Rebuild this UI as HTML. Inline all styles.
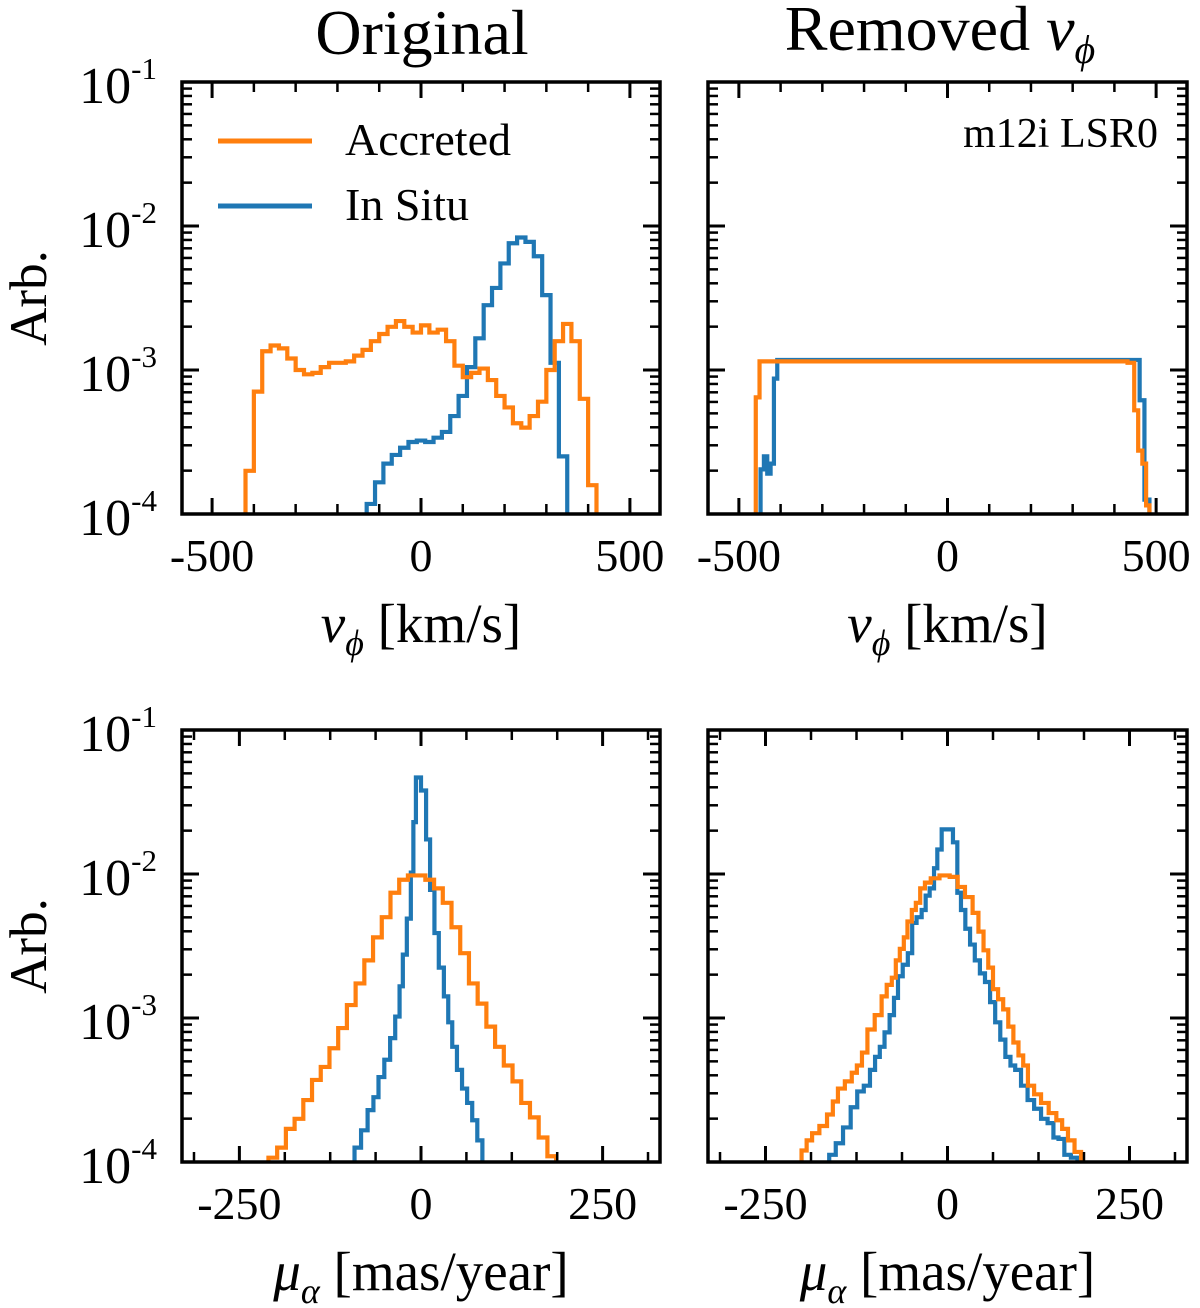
<!DOCTYPE html>
<html><head><meta charset="utf-8"><style>
html,body{margin:0;padding:0;background:#fff;}
svg{display:block;font-family:"Liberation Serif",serif;}
</style></head><body>
<svg id="fig" width="1200" height="1308" viewBox="0 0 1200 1308" xmlns="http://www.w3.org/2000/svg">
<g id="root"></g>
<text x="422" y="54" text-anchor="middle" font-size="64">Original</text>
<text x="940" y="50" text-anchor="middle" font-size="64">Removed <tspan font-style="italic">v</tspan><tspan font-style="italic" font-size="40" dy="13">ϕ</tspan></text>
<text transform="translate(46,298) rotate(-90)" text-anchor="middle" font-size="53">Arb.</text>
<text transform="translate(46,946) rotate(-90)" text-anchor="middle" font-size="53">Arb.</text>
<g>
<line x1="218" x2="312" y1="141" y2="141" stroke="#ff7f0e" stroke-width="5"/>
<text x="345" y="155" font-size="46">Accreted</text>
<line x1="218" x2="312" y1="206" y2="206" stroke="#1f77b4" stroke-width="5"/>
<text x="345" y="220" font-size="46">In Situ</text>
</g>
<text x="1158" y="147" text-anchor="end" font-size="42">m12i LSR0</text>
</svg>
<script>
// ---- data (log10 density, bin centers) ----
const tlOrangeCenters=[-410,-390,-370,-350,-330,-310,-290,-270,-250,-230,-210,-190,-170,-150,-130,-110,-90,-70,-50,-30,-10,10,30,50,70,90,110,130,150,170,190,210,230,250,270,290,310,330,350,370,390,410];
const tlOrangeLog=[-3.7,-3.15,-2.87,-2.83,-2.85,-2.92,-3.0,-3.03,-3.02,-2.98,-2.95,-2.95,-2.94,-2.90,-2.86,-2.80,-2.75,-2.70,-2.66,-2.70,-2.74,-2.69,-2.74,-2.72,-2.80,-2.97,-3.05,-3.02,-2.99,-3.07,-3.18,-3.26,-3.37,-3.40,-3.32,-3.22,-3.0,-2.80,-2.68,-2.8,-3.2,-3.8];
const tlBlueCenters=[-120,-100,-80,-60,-40,-20,0,20,40,60,80,100,120,140,160,180,200,220,240,260,280,300,320,340];
const tlBlueLog=[-3.93,-3.78,-3.65,-3.59,-3.54,-3.50,-3.49,-3.50,-3.47,-3.43,-3.32,-3.18,-2.98,-2.78,-2.55,-2.43,-2.26,-2.12,-2.08,-2.11,-2.21,-2.48,-2.95,-3.6];
const trOrangeCenters=[-455,-446,-420,-300,-150,0,150,300,420,443,452,462,472,480];
const trOrangeLog=[-3.19,-2.94,-2.94,-2.94,-2.94,-2.94,-2.94,-2.94,-2.94,-2.95,-3.28,-3.56,-3.65,-3.94];
const trBlueCenters=[-444,-436,-428,-420,-412,-404,-380,-250,0,250,420,455,466,478];
const trBlueLog=[-3.69,-3.6,-3.72,-3.65,-3.06,-2.93,-2.93,-2.93,-2.93,-2.93,-2.93,-2.93,-3.21,-3.9];
const blOrangeCenters=[-204,-192,-180,-168,-156,-144,-132,-120,-108,-96,-84,-72,-60,-48,-36,-24,-12,0,12,24,36,48,60,72,84,96,108,120,132,144,156,168,180];
const blOrangeLog=[-3.97,-3.90,-3.77,-3.70,-3.57,-3.43,-3.34,-3.21,-3.07,-2.91,-2.76,-2.60,-2.44,-2.30,-2.13,-2.04,-2.01,-2.01,-2.04,-2.10,-2.20,-2.37,-2.55,-2.76,-2.90,-3.06,-3.20,-3.33,-3.44,-3.59,-3.69,-3.83,-3.96];
const blBlueCenters=[-87,-78,-69,-62,-55,-46,-39,-32,-27,-23,-16,-12,-9,-5,5,9,16,21,28,35,40,46,53,60,67,74,81];
const blBlueLog=[-3.90,-3.78,-3.64,-3.55,-3.41,-3.29,-3.14,-2.99,-2.78,-2.56,-2.31,-1.99,-1.64,-1.33,-1.42,-1.76,-2.11,-2.41,-2.65,-2.85,-3.03,-3.20,-3.36,-3.49,-3.59,-3.71,-3.85];
const brOrangeCenters=[-197,-190,-182,-170,-161,-154,-147,-135,-128,-121,-114,-106,-94,-87,-80,-73,-69,-62,-58,-52,-46,-41,-34,-28,-18,-4,10,18,30,39,46,53,59,66,73,80,87,94,101,107,114,124,133,145,154,161,170,179];
const brOrangeLog=[-3.92,-3.85,-3.80,-3.75,-3.67,-3.58,-3.49,-3.44,-3.38,-3.33,-3.24,-3.08,-2.98,-2.85,-2.77,-2.72,-2.60,-2.52,-2.44,-2.33,-2.25,-2.20,-2.10,-2.06,-2.03,-2.01,-2.02,-2.09,-2.16,-2.27,-2.40,-2.53,-2.65,-2.80,-2.87,-2.94,-3.06,-3.17,-3.26,-3.33,-3.47,-3.53,-3.59,-3.66,-3.71,-3.77,-3.85,-3.93];
const brBlueCenters=[-158,-149,-138,-128,-120,-110,-103,-96,-90,-83,-76,-71,-65,-58,-51,-46,-39,-32,-28,-21,-16,-12,-4,4,11,16,21,28,34,41,48,55,62,69,76,83,90,96,106,114,124,133,142,149,156,165,174];
const brBlueLog=[-3.95,-3.87,-3.76,-3.62,-3.51,-3.47,-3.36,-3.27,-3.20,-3.10,-2.98,-2.86,-2.71,-2.63,-2.55,-2.34,-2.30,-2.25,-2.15,-2.10,-1.96,-1.83,-1.69,-1.69,-1.78,-2.13,-2.25,-2.38,-2.49,-2.60,-2.69,-2.75,-2.89,-3.03,-3.15,-3.27,-3.33,-3.36,-3.47,-3.57,-3.63,-3.70,-3.73,-3.83,-3.84,-3.95,-3.97];
const topXTicks=[-500,0,500];
const topXTickLabels=["-500","0","500"];
const botXTicks=[-250,0,250];
const botXTickLabels=["-250","0","250"];
const yDecades=[-1,-2,-3,-4];
const yTickLabels=["-1","-2","-3","-4"];

const NS="http://www.w3.org/2000/svg";
const root=document.getElementById('root');
function mk(tag,attrs,parent){const e=document.createElementNS(NS,tag);for(const k in attrs)e.setAttribute(k,attrs[k]);(parent||root).appendChild(e);return e;}

const panels=[
 {id:'top-left',x0:182,x1:660,y0:82,y1:514,xmin:-572,xmax:572,minor:100,ticks:topXTicks,labels:topXTickLabels,ylab:true,series:[[tlBlueCenters,tlBlueLog,'#1f77b4','in-situ'],[tlOrangeCenters,tlOrangeLog,'#ff7f0e','accreted']],xl:'v'},
 {id:'top-right',x0:708,x1:1187,y0:82,y1:514,xmin:-574,xmax:574,minor:100,ticks:topXTicks,labels:topXTickLabels,ylab:false,series:[[trBlueCenters,trBlueLog,'#1f77b4','in-situ'],[trOrangeCenters,trOrangeLog,'#ff7f0e','accreted']],xl:'v'},
 {id:'bottom-left',x0:182,x1:660,y0:730,y1:1162,xmin:-329,xmax:329,minor:62.5,ticks:botXTicks,labels:botXTickLabels,ylab:true,series:[[blBlueCenters,blBlueLog,'#1f77b4','in-situ'],[blOrangeCenters,blOrangeLog,'#ff7f0e','accreted']],xl:'mu'},
 {id:'bottom-right',x0:708,x1:1187,y0:730,y1:1162,xmin:-329,xmax:329,minor:62.5,ticks:botXTicks,labels:botXTickLabels,ylab:false,series:[[brBlueCenters,brBlueLog,'#1f77b4','in-situ'],[brOrangeCenters,brOrangeLog,'#ff7f0e','accreted']],xl:'mu'}
];

panels.forEach((p,pi)=>{
 const g=mk('g',{});
 
 
 const X=v=>p.x0+(v-p.xmin)/(p.xmax-p.xmin)*(p.x1-p.x0);
 const Y=l=>p.y0+(-1-l)/3*(p.y1-p.y0);
 const cp=mk('clipPath',{id:'clip'+pi},g);
 mk('rect',{x:p.x0,y:p.y0,width:p.x1-p.x0,height:p.y1-p.y0},cp);
 p.series.forEach(s=>{
  const c=s[0],v=s[1],n=c.length;
  const edges=[];
  edges.push(c[0]-(c[1]-c[0])/2);
  for(let i=0;i<n-1;i++)edges.push((c[i]+c[i+1])/2);
  edges.push(c[n-1]+(c[n-1]-c[n-2])/2);
  let d='M'+X(edges[0])+','+(p.y1+10);
  for(let i=0;i<n;i++){d+=' L'+X(edges[i])+','+Y(v[i])+' L'+X(edges[i+1])+','+Y(v[i]);}
  d+=' L'+X(edges[n])+','+(p.y1+10);
  const path=mk('path',{d:d,fill:'none',stroke:s[2],'stroke-width':4.2,'stroke-linejoin':'miter','clip-path':'url(#clip'+pi+')'},g);
  
  
 });
 for(let dcd=-4;dcd<=-1;dcd++){
  const y=Y(dcd);
  mk('line',{x1:p.x0,x2:p.x0+17,y1:y,y2:y,stroke:'#000','stroke-width':3},g);
  mk('line',{x1:p.x1,x2:p.x1-17,y1:y,y2:y,stroke:'#000','stroke-width':3},g);
  if(dcd<-1)for(let m=2;m<=9;m++){
   const ym=Y(dcd+Math.log10(m));
   mk('line',{x1:p.x0,x2:p.x0+10,y1:ym,y2:ym,stroke:'#000','stroke-width':2.5},g);
   mk('line',{x1:p.x1,x2:p.x1-10,y1:ym,y2:ym,stroke:'#000','stroke-width':2.5},g);
  }
 }
 if(p.ylab){
  yDecades.forEach((dcd,i)=>{
   const t=mk('text',{x:157,y:Y(dcd)+21,'text-anchor':'end','font-size':52},g);
   
   
   t.appendChild(document.createTextNode('10'));
   const ts=mk('tspan',{'font-size':31,dy:-24},t);
   ts.textContent=yTickLabels[i];
  });
 }
 for(let v=Math.ceil(p.xmin/p.minor)*p.minor;v<=p.xmax;v+=p.minor){
  const x=X(v);const major=p.ticks.some(t=>Math.abs(t-v)<1e-6);
  const L=major?16:10;
  mk('line',{x1:x,x2:x,y1:p.y1,y2:p.y1-L,stroke:'#000','stroke-width':major?3:2.5},g);
  mk('line',{x1:x,x2:x,y1:p.y0,y2:p.y0+L,stroke:'#000','stroke-width':major?3:2.5},g);
 }
 p.ticks.forEach((v,i)=>{
  const t=mk('text',{x:X(v),y:p.y1+57,'text-anchor':'middle','font-size':46},g);
  
  
  t.textContent=p.labels[i];
 });
 const fr=mk('rect',{x:p.x0,y:p.y0,width:p.x1-p.x0,height:p.y1-p.y0,fill:'none',stroke:'#000','stroke-width':3.5},g);
 
 
 const cx=(p.x0+p.x1)/2;
 const xt=mk('text',{x:cx,y:p.y1+128,'text-anchor':'middle','font-size':55},g);
 
 
 const sym=mk('tspan',{'font-style':'italic'},xt);
 sym.textContent=p.xl==='v'?'v':'μ';
 const sub=mk('tspan',{'font-size':36,dy:13,'font-style':'italic'},xt);
 sub.textContent=p.xl==='v'?'ϕ':'α';
 const rest=mk('tspan',{dy:-13},xt);
 rest.textContent=p.xl==='v'?' [km/s]':' [mas/year]';
});
</script>
</body></html>
